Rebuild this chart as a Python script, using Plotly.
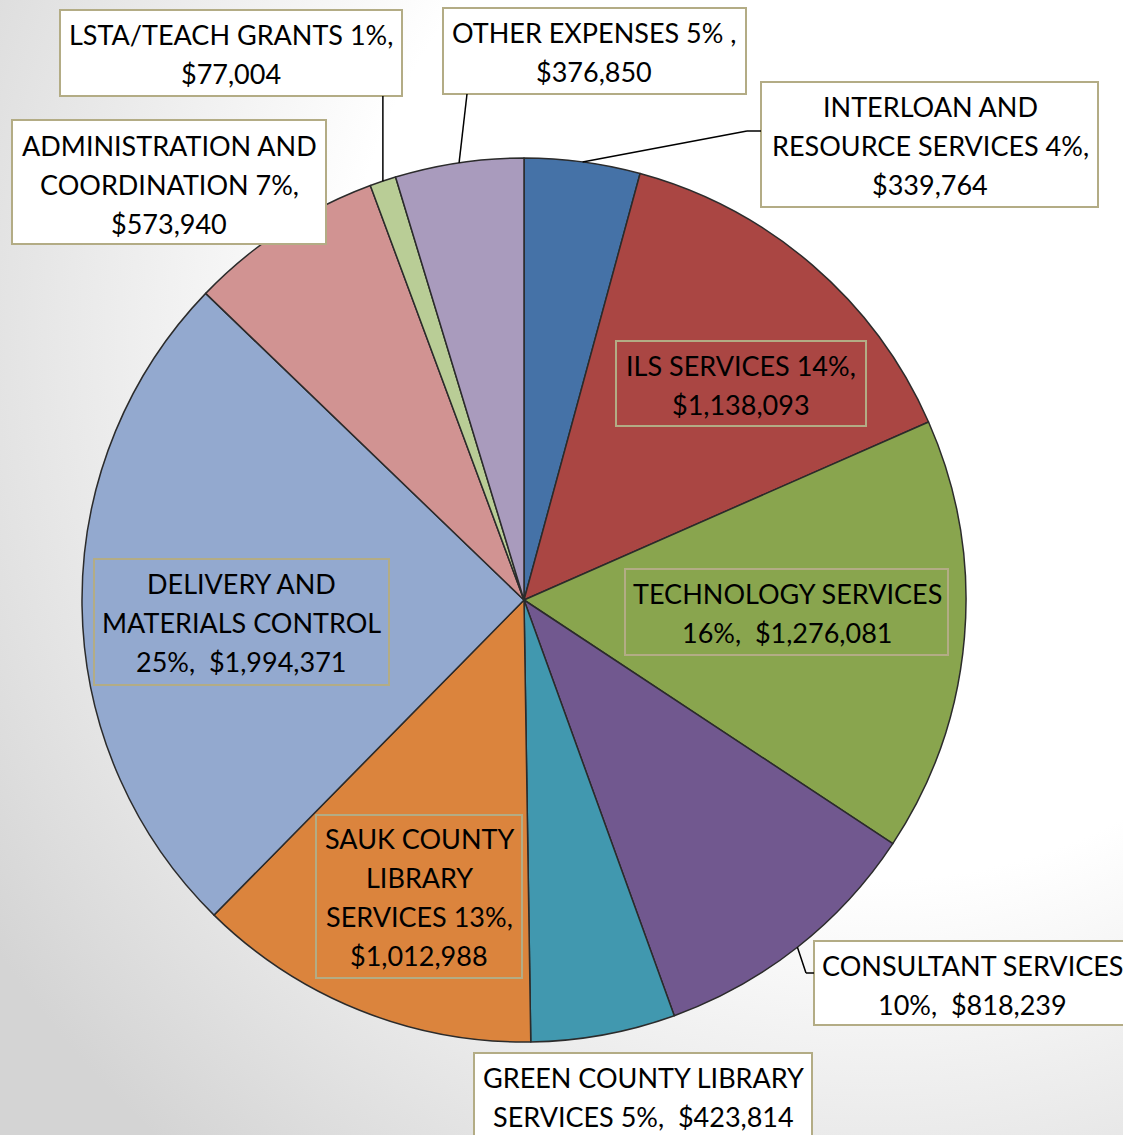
import math, base64
import plotly.graph_objects as go

# ---- data ----
categories = ["INTERLOAN AND RESOURCE SERVICES", "ILS SERVICES", "TECHNOLOGY SERVICES",
              "CONSULTANT SERVICES", "GREEN COUNTY LIBRARY SERVICES", "SAUK COUNTY LIBRARY SERVICES",
              "DELIVERY AND MATERIALS CONTROL", "ADMINISTRATION AND COORDINATION",
              "LSTA/TEACH GRANTS", "OTHER EXPENSES"]
values = [339764, 1138093, 1276081, 818239, 423814, 1012988, 1994371, 573940, 77004, 376850]
label_texts = [
    "INTERLOAN AND<br>RESOURCE SERVICES 4%,<br>$339,764",
    "ILS SERVICES 14%,<br>$1,138,093",
    "TECHNOLOGY SERVICES<br>16%,  $1,276,081",
    "CONSULTANT SERVICES<br>10%,  $818,239",
    "GREEN COUNTY LIBRARY<br>SERVICES 5%,  $423,814",
    "SAUK COUNTY<br>LIBRARY<br>SERVICES 13%,<br>$1,012,988",
    "DELIVERY AND<br>MATERIALS CONTROL<br>25%,  $1,994,371",
    "ADMINISTRATION AND<br>COORDINATION 7%,<br>$573,940",
    "LSTA/TEACH GRANTS 1%,<br>$77,004",
    "OTHER EXPENSES 5% ,<br>$376,850",
]
colors = ["#4572a7", "#aa4643", "#89a54e", "#71588f", "#4198af",
          "#db843d", "#93a9cf", "#d19392", "#b9cd96", "#a99bbd"]

# ---- layout geometry (pixels) ----
W, H = 1123, 1135
CX, CY, R = 524, 600, 442
LINE_H = 39
# label boxes: (x0, y0, x1, y1) in pixels, inside flag
boxes = [
    (761, 82, 1098, 207, False),
    (616, 341, 866, 426, True),
    (625, 569, 948, 655, True),
    (814, 941, 1140, 1025, False),
    (474, 1053, 812, 1150, False),
    (316, 815, 522, 978, True),
    (94, 559, 389, 685, True),
    (12, 120, 326, 244, False),
    (60, 10, 402, 96, False),
    (443, 8, 746, 94, False),
]
# text block centres (pixels)
text_centres = [
    (930, 145), (741, 385), (787, 613), (972, 985), (643, 1097),
    (419, 897), (241, 622), (169, 184), (231, 54), (594, 52),
]

def px(x):
    return x / W

def py(y):
    return 1 - y / H

fig = go.Figure(go.Pie(
    labels=categories, values=values, sort=False, direction="clockwise", rotation=0,
    marker=dict(colors=colors, line=dict(color="#2b2b2b", width=1.5)),
    textinfo="none", hoverinfo="label+value+percent", showlegend=False,
    domain=dict(x=[px(CX - R), px(CX + R)], y=[py(CY + R), py(CY - R)]),
))

border = "#b3ac85"
font = dict(family="Lato, sans-serif", size=27, color="#000000")
annotations = []
shapes = []
for txt, (x0, y0, x1, y1, inside), (tx, ty) in zip(label_texts, boxes, text_centres):
    shapes.append(dict(type="rect", xref="paper", yref="paper",
                       x0=px(x0), x1=px(x1), y0=py(y1), y1=py(y0),
                       line=dict(color=border, width=2),
                       fillcolor="rgba(0,0,0,0)" if inside else "#ffffff", layer="above"))
    lines = txt.split("<br>")
    n = len(lines)
    for k, line in enumerate(lines):
        ly = ty + (k - (n - 1) / 2) * LINE_H
        annotations.append(dict(
            x=px(tx), y=py(ly), xref="paper", yref="paper",
            text=line, showarrow=False, align="center", font=font,
            xanchor="center", yanchor="middle",
        ))

# leader lines computed from slice mid angles
total = sum(values)
cum = 0
mids = []
for v in values:
    mids.append((cum + v / 2) / total * 360)
    cum += v

def edge(i):
    a = math.radians(mids[i])
    return CX + R * math.sin(a), CY - R * math.cos(a)

def seg(xa, ya, xb, yb):
    shapes.append(dict(type="line", xref="paper", yref="paper",
                       x0=px(xa), y0=py(ya), x1=px(xb), y1=py(yb),
                       line=dict(color="#000000", width=1.5)))

ex, ey = edge(0)
seg(ex, ey, 747, 131); seg(747, 131, 761, 131)
ex, ey = edge(3)
seg(ex, ey, 806, 973); seg(806, 973, 814, 973)
ex, ey = edge(8)
seg(ex, ey, ex, 96)
ex, ey = edge(9)
seg(ex, ey, 467, 94)

svg = ('<svg xmlns="http://www.w3.org/2000/svg" width="1123" height="1135" preserveAspectRatio="none">'
       '<defs><radialGradient id="g" cx="0.78" cy="0.3" r="0.95">'
       '<stop offset="0.5" stop-color="#ffffff"/><stop offset="1" stop-color="#d4d4d4"/>'
       '</radialGradient></defs><rect width="1123" height="1135" fill="url(#g)"/></svg>')
src = "data:image/svg+xml;base64," + base64.b64encode(svg.encode()).decode()

fig.update_layout(
    width=W, height=H, margin=dict(l=0, r=0, t=0, b=0),
    paper_bgcolor="#ffffff", plot_bgcolor="rgba(0,0,0,0)",
    annotations=annotations, shapes=shapes,
    images=[dict(source=src, xref="paper", yref="paper", x=0, y=1, sizex=1, sizey=1,
                 xanchor="left", yanchor="top", sizing="stretch", layer="below")],
)

fig.write_html("out.html", config={"displayModeBar": False},
               post_script="document.body.style.margin='0';document.body.style.overflow='hidden';")
